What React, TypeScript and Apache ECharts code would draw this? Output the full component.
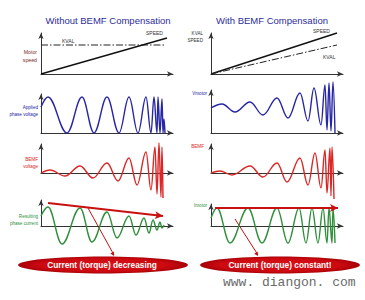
import React, { useEffect, useRef } from "react";
import * as echarts from "echarts";

// ---- data (t = time units along each axis, v = amplitude units) ----
const leftKval = [[0, 29], [124, 29]];
const leftSpeed = [[0, 0], [126, 36]];
const rightSpeed = [[0, 0], [126, 41]];
const rightKval = [[0, 0], [126, 29]];

const leftVoltage = [
  [0, 26], [7, 36], [26, 0], [41, 36], [53, 0], [66, 36], [78, 0], [88, 36], [97, 0],
  [105, 36], [110, 0], [113, 36], [116, 0], [117, 36], [119, 0], [121, 34], [122, 0], [123, 14], [124, 0],
];
const rightVoltage = [
  [0, 25], [11, 29], [24, 21], [39, 31], [52, 18], [66, 35], [77, 15], [89, 40], [97, 12],
  [103, 45], [110, 8], [114, 48], [116, 3], [118, 50], [120, 2], [122, 51], [124, 0],
];
const leftBemf = [
  [0, 0], [9, 3], [24, -3], [39, 7], [52, -5], [66, 10], [77, -8], [88, 15], [96, -12],
  [105, 21], [110, -17], [114, 26], [116, -21], [118, 30], [120, -24], [121, 26], [122, -25],
];
const rightBemf = [
  [0, 0], [9, 2], [21, -2], [39, 7], [52, -4], [66, 10], [76, -9], [89, 15], [97, -12],
  [104, 20], [110, -15], [114, 23], [116, -20], [119, 25], [120, -23], [121, 26], [123, -26],
];
const leftCurrent = [
  [0, 10], [7, 19], [21, -18], [39, 18], [51, -16], [66, 14], [76, -12], [88, 10], [95, -9],
  [103, 8], [108, -7], [112, 6], [116, -4], [119, 4], [121, -2], [123, 1],
];
const rightCurrent = [
  [0, 8], [6, 18], [19, -17], [37, 18], [51, -17], [66, 18], [77, -17], [88, 18], [95, -17],
  [101, 18], [107, -17], [112, 18], [116, -17], [118, 18], [121, -17], [122, 18], [124, -17],
];
const leftEnvelope = [[7, 23], [122, 10]];
const rightEnvelope = [[4, 18], [127, 18]];

// ---- layout ----
const GRIDS = [
  { left: 41, top: 33, height: 41 },
  { left: 41, top: 94, height: 39 },
  { left: 41, top: 144, height: 29 },
  { left: 41, top: 200, height: 26 },
  { left: 211, top: 33, height: 41 },
  { left: 211, top: 90, height: 43 },
  { left: 211, top: 144, height: 29 },
  { left: 211, top: 204, height: 22 },
];
const AXIS_LEN = 132;
const BLUE = "#2626a6";
const RED = "#dc2626";
const GREEN = "#2f8f3a";
const ARROW_RED = "#c81010";
const FONT = '"Liberation Sans", Arial, sans-serif';

const axisBase = {
  type: "value",
  min: 0,
  axisLine: {
    show: true,
    onZero: false,
    symbol: ["none", "arrow"],
    symbolSize: [4, 6],
    lineStyle: { color: "#333", width: 1 },
  },
  axisTick: { show: false },
  axisLabel: { show: false },
  splitLine: { show: false },
};

const txt = (text: string, x: number, y: number, size: number, color: string, align = "left", weight = "normal", lh = 0, family = FONT) => ({
  type: "text",
  x,
  y,
  silent: true,
  style: {
    text,
    fill: color,
    font: `${weight} ${size}px ${family}`,
    textAlign: align,
    align,
    textVerticalAlign: "middle",
    verticalAlign: "middle",
    lineHeight: lh || size * 1.2,
  },
});

const arrowHead = (x1: number, y1: number, x2: number, y2: number, len: number, half: number) => {
  const a = Math.atan2(y2 - y1, x2 - x1);
  const bx = x2 - len * Math.cos(a);
  const by = y2 - len * Math.sin(a);
  return {
    type: "polygon",
    silent: true,
    shape: {
      points: [
        [x2, y2],
        [bx + half * Math.sin(a), by - half * Math.cos(a)],
        [bx - half * Math.sin(a), by + half * Math.cos(a)],
      ],
    },
    style: { fill: ARROW_RED },
  };
};

const wave = (idx: number, data: number[][], color: string, extra: any = {}) => ({
  type: "line",
  xAxisIndex: idx,
  yAxisIndex: idx,
  data,
  symbol: "none",
  smooth: 0.38,
  smoothMonotone: "x",
  clip: false,
  silent: true,
  lineStyle: { color, width: 1.4 },
  ...extra,
});

const straight = (idx: number, data: number[][], style: any) => ({
  type: "line",
  xAxisIndex: idx,
  yAxisIndex: idx,
  data,
  symbol: "none",
  clip: false,
  silent: true,
  lineStyle: style,
});

const envelope = (pts: number[][]) => ({
  markLine: {
    silent: true,
    symbol: ["none", "arrow"],
    symbolSize: [6, 8],
    label: { show: false },
    lineStyle: { color: ARROW_RED, width: 2, type: "solid" },
    data: [[{ coord: pts[0] }, { coord: pts[1] }]],
  },
});

const ellipseFill = {
  type: "radial",
  x: 0.5,
  y: 0.5,
  r: 0.5,
  colorStops: [
    { offset: 0, color: "#de1218" },
    { offset: 0.75, color: "#cc0a10" },
    { offset: 1, color: "#a80008" },
  ],
};

const option = {
  animation: false,
  backgroundColor: "#ffffff",
  grid: GRIDS.map((g) => ({ left: g.left, top: g.top, width: AXIS_LEN, height: g.height })),
  xAxis: GRIDS.map((g, i) => ({ ...axisBase, gridIndex: i, max: AXIS_LEN })),
  yAxis: GRIDS.map((g, i) => ({ ...axisBase, gridIndex: i, max: g.height })),
  series: [
    straight(0, leftKval, { color: "#222", width: 1, type: [7, 2, 1.5, 2] }),
    straight(0, leftSpeed, { color: "#111", width: 1.4 }),
    wave(1, leftVoltage, BLUE),
    wave(2, leftBemf, RED),
    wave(3, leftCurrent, GREEN, envelope(leftEnvelope)),
    straight(4, rightSpeed, { color: "#111", width: 1.4 }),
    straight(4, rightKval, { color: "#222", width: 1, type: [7, 2, 1.5, 2] }),
    wave(5, rightVoltage, BLUE),
    wave(6, rightBemf, RED),
    wave(7, rightCurrent, GREEN, envelope(rightEnvelope)),
  ],
  graphic: [
    txt("Without BEMF Compensation", 108, 20, 9.5, "#2d2d9a", "center"),
    txt("With BEMF Compensation", 272, 20, 9.5, "#2d2d9a", "center"),
    txt("Motor\nspeed", 37, 56, 5.2, "#7a2b2b", "right", "normal", 8),
    txt("KVAL", 62, 41, 5, "#333", "left"),
    txt("SPEED", 146, 33, 5, "#333", "left"),
    txt("Applied\nphase voltage", 38, 111, 4.6, BLUE, "right", "normal", 6.5),
    txt("BEMF\nvoltage", 38, 163, 4.6, RED, "right", "normal", 6.5),
    txt("Resulting\nphase current", 38, 220, 4.6, GREEN, "right", "normal", 6.5),
    txt("KVAL\nSPEED", 203, 37, 4.6, "#333", "right", "normal", 7),
    txt("SPEED", 313, 31, 5, "#333", "left"),
    txt("KVAL", 323, 57, 5, "#333", "left"),
    txt("Vmotor", 207, 93, 4.6, BLUE, "right"),
    txt("BEMF", 204, 146, 4.6, RED, "right"),
    txt("Imotor", 207, 205, 4.6, GREEN, "right"),
    { type: "ellipse", silent: true, shape: { cx: 103, cy: 265, rx: 85, ry: 8.5 }, style: { fill: ellipseFill } },
    { type: "ellipse", silent: true, shape: { cx: 280, cy: 265, rx: 80, ry: 8.5 }, style: { fill: ellipseFill } },
    txt("Current (torque) decreasing", 102, 265, 8.3, "#ffffff", "center", "bold"),
    txt("Current (torque) constant!", 280, 265, 8.3, "#ffffff", "center", "bold"),
    { type: "line", silent: true, shape: { x1: 88, y1: 208, x2: 114, y2: 255 }, style: { stroke: ARROW_RED, lineWidth: 1 } },
    arrowHead(88, 208, 114, 256, 4, 2),
    { type: "line", silent: true, shape: { x1: 235, y1: 219, x2: 258, y2: 255 }, style: { stroke: ARROW_RED, lineWidth: 1 } },
    arrowHead(235, 219, 258, 256, 4, 2),
    txt("www. diangon. com", 223, 282, 13, "#6a6a6a", "left", "normal", 0, '"Liberation Mono", "DejaVu Sans Mono", monospace'),
  ],
};

export default function App() {
  const ref = useRef<HTMLDivElement>(null);
  useEffect(() => {
    if (!ref.current) return;
    const chart = echarts.init(ref.current, null, { renderer: "svg" });
    chart.setOption(option as any);
    return () => chart.dispose();
  }, []);
  return (
    <div
      ref={ref}
      style={{ position: "fixed", left: 0, top: 0, width: 365, height: 300, background: "#fff" }}
    />
  );
}
